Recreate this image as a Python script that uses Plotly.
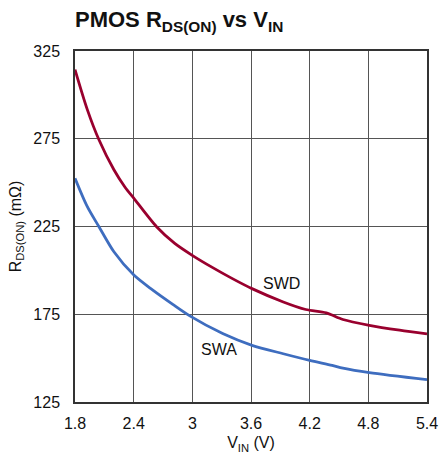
import plotly.graph_objects as go

vin_swd = [1.8, 1.926, 2.045, 2.198, 2.31, 2.41, 2.634, 2.82, 3.007, 3.195, 3.41, 3.61, 3.93, 4.16, 4.37, 4.54, 4.81, 5.12, 5.4]
rds_swd = [314.4, 291.6, 274.4, 257.3, 247.5, 240.5, 224.9, 215.4, 208.3, 202.0, 195.3, 189.6, 182, 177.7, 175.8, 172, 168.7, 165.9, 163.8]
vin_swa = [1.8, 1.926, 2.045, 2.198, 2.402, 2.589, 2.8, 2.97, 3.31, 3.61, 3.93, 4.2, 4.43, 4.54, 4.81, 5.4]
rds_swa = [252.5, 236.3, 224.9, 210.6, 197.3, 189.0, 180.6, 174.2, 164, 157.3, 152.5, 148.7, 145.9, 144.3, 141.7, 137.7]

xticks = [1.8, 2.4, 3, 3.6, 4.2, 4.8, 5.4]
yticks = [125, 175, 225, 275, 325]

FONT = "Liberation Sans, Arial, Helvetica, sans-serif"

fig = go.Figure()
fig.add_trace(go.Scatter(x=vin_swd, y=rds_swd, mode="lines",
                         line=dict(color="#99002E", width=2.8, shape="spline", smoothing=0.8), hoverinfo="skip"))
fig.add_trace(go.Scatter(x=vin_swa, y=rds_swa, mode="lines",
                         line=dict(color="#3E6DBF", width=2.8, shape="spline", smoothing=0.8), hoverinfo="skip"))

fig.add_annotation(x=3.91, y=192.7, text="SWD", showarrow=False, font=dict(family=FONT, size=16, color="#111"))
fig.add_annotation(x=3.27, y=155, text="SWA", showarrow=False, font=dict(family=FONT, size=16, color="#111"))

fig.update_layout(
    width=440, height=461,
    margin=dict(l=75, r=13, t=51, b=59, autoexpand=False),
    paper_bgcolor="white", plot_bgcolor="white",
    showlegend=False,
    font=dict(family=FONT, size=16, color="#111"),
    title=dict(text="<b>PMOS R<sub>DS(ON)</sub> vs V<sub>IN</sub></b>",
               xref="paper", x=0, xanchor="left", yref="container", y=0.975, yanchor="top",
               pad=dict(l=0, t=0),
               font=dict(family=FONT, size=22, color="#111")),
    xaxis=dict(range=[1.8, 5.4], tickvals=xticks, ticktext=[str(v) for v in xticks],
               showgrid=True, gridcolor="#555", gridwidth=1, zeroline=False,
               showline=True, linecolor="#333", linewidth=1.5, mirror=True,
               ticks="", ticklabelstandoff=6, automargin=False,
               title=dict(text="V<sub>IN</sub> (V)", standoff=6, font=dict(family=FONT, size=16))),
    yaxis=dict(range=[125, 325], tickvals=yticks, ticktext=[str(v) for v in yticks],
               showgrid=True, gridcolor="#555", gridwidth=1, zeroline=False,
               showline=True, linecolor="#333", linewidth=1.5, mirror=True,
               ticks="", ticklabelstandoff=10, automargin=False,
               title=dict(text="R<sub>DS(ON)</sub> (mΩ)", standoff=8, font=dict(family=FONT, size=16))),
)

fig.write_html("out.html", config={"displayModeBar": False},
               post_script="document.body.style.margin='0';document.body.style.padding='0';document.body.style.overflow='hidden';")
